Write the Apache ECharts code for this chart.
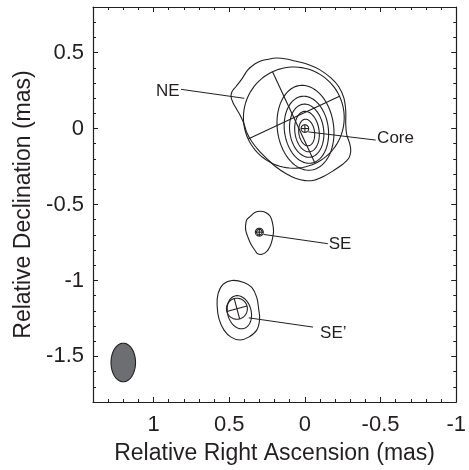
<!DOCTYPE html>
<html><head><meta charset="utf-8">
<script src="https://cdn.jsdelivr.net/npm/echarts@6/dist/echarts.min.js"></script>
<style>html,body{margin:0;padding:0;background:#fff}#c{width:469px;height:470px}</style>
</head><body><div id="c"></div>
<script>
// ---- tick values ----
const xMajorTicks = [1, 0.5, 0, -0.5, -1];
const xMinorTicks = [1.3,1.2,1.1,0.9,0.8,0.7,0.6,0.4,0.3,0.2,0.1,-0.1,-0.2,-0.3,-0.4,-0.6,-0.7,-0.8,-0.9];
const yMajorTicks = [0.5, 0, -0.5, -1, -1.5];
const yMinorTicks = [0.7,0.6,0.4,0.3,0.2,0.1,-0.1,-0.2,-0.3,-0.4,-0.6,-0.7,-0.8,-0.9,-1.1,-1.2,-1.3,-1.4,-1.6,-1.7];

// ---- irregular contours (RA, Dec in mas) ----
const coreOuterContour = [
  [0.253,0.454],[0.188,0.464],[0.122,0.458],[0.063,0.444],[-0.022,0.422],[-0.100,0.386],
  [-0.172,0.333],[-0.224,0.275],[-0.257,0.203],[-0.270,0.118],[-0.270,0.033],[-0.276,-0.039],
  [-0.296,-0.098],[-0.303,-0.150],[-0.290,-0.196],[-0.250,-0.235],[-0.192,-0.275],[-0.126,-0.314],
  [-0.061,-0.340],[-0.002,-0.343],[0.063,-0.327],[0.129,-0.294],[0.188,-0.255],[0.246,-0.203],
  [0.305,-0.144],[0.351,-0.085],[0.384,-0.026],[0.403,0.033],[0.423,0.078],[0.449,0.124],
  [0.475,0.170],[0.488,0.209],[0.482,0.242],[0.456,0.275],[0.416,0.327],[0.377,0.386],
  [0.331,0.425],[0.292,0.444]
];
const seContour = [
  [0.294,-0.544],[0.259,-0.552],[0.229,-0.577],[0.214,-0.621],[0.207,-0.675],[0.214,-0.725],
  [0.229,-0.773],[0.253,-0.810],[0.284,-0.828],[0.312,-0.824],[0.327,-0.806],[0.358,-0.758],
  [0.375,-0.719],[0.390,-0.673],[0.392,-0.641],[0.384,-0.601],[0.359,-0.577],[0.331,-0.552]
];
const sePrimeContour = [
  [0.482,-1.000],[0.403,-1.013],[0.351,-1.046],[0.318,-1.111],[0.305,-1.190],[0.299,-1.255],
  [0.318,-1.327],[0.371,-1.373],[0.429,-1.392],[0.488,-1.373],[0.534,-1.327],[0.567,-1.255],
  [0.580,-1.163],[0.573,-1.085],[0.541,-1.026]
];

// ---- elliptical contours: [RA, Dec, semi-major, semi-minor, PA deg] ----
const coreInnerContours = [
  [-0.004,0.005,0.281,0.186,8],
  [-0.010,-0.008,0.222,0.145,8],
  [-0.012,-0.014,0.176,0.112,8],
  [-0.014,-0.020,0.134,0.080,8],
  [-0.012,-0.026,0.088,0.052,8]
];
const smallContours = [
  [0.433,-1.209,0.111,0.078,15],
  [0.301,-0.682,0.018,0.018,0]
];

// ---- model components (circle with cross): [RA, Dec, a, b, PA] ----
const components = [
  [0.073,0.072,0.333,0.333,25],
  [0.000,0.000,0.025,0.025,0],
  [0.301,-0.682,0.026,0.026,0],
  [0.449,-1.186,0.069,0.069,15]
];
// ---- restoring beam ----
const beam = [[1.2,-1.54,0.127,0.081,0]];

// ---- labels & leader lines ----
const labelNames = ['NE','Core','SE','SE\u2019'];
const labelPos = [[0.906,0.242],[-0.599,-0.065],[-0.232,-0.763],[-0.188,-1.351]];
const leaderLines = [
  [0.818,0.258,0.400,0.199],
  [-0.022,-0.022,-0.468,-0.076],
  [0.273,-0.697,-0.152,-0.758],
  [0.371,-1.246,-0.054,-1.307]
];

const INK = '#231f20';
const FONT = '"Liberation Sans", Arial, sans-serif';

function ellipsePts(api, cx, cy, a, b, pa) {
  const r = pa * Math.PI / 180, pts = [];
  for (let i = 0; i < 96; i++) {
    const t = i / 96 * 2 * Math.PI;
    const u = b * Math.cos(t), v = a * Math.sin(t);
    pts.push(api.coord([cx + v * Math.sin(r) + u * Math.cos(r), cy + v * Math.cos(r) - u * Math.sin(r)]));
  }
  return pts;
}
function ellipseSeries(data, withCross, fill) {
  return {
    type: 'custom', xAxisIndex: 0, yAxisIndex: 0, silent: true, clip: false,
    data: data,
    renderItem: function (params, api) {
      const cx = api.value(0), cy = api.value(1), a = api.value(2), b = api.value(3), pa = api.value(4);
      const children = [{
        type: 'polygon', shape: { points: ellipsePts(api, cx, cy, a, b, pa) },
        style: { fill: fill || 'none', stroke: INK, lineWidth: 1.1 }
      }];
      if (withCross) {
        const r = pa * Math.PI / 180;
        const p1 = api.coord([cx + a * Math.sin(r), cy + a * Math.cos(r)]);
        const p2 = api.coord([cx - a * Math.sin(r), cy - a * Math.cos(r)]);
        const q1 = api.coord([cx + b * Math.cos(r), cy - b * Math.sin(r)]);
        const q2 = api.coord([cx - b * Math.cos(r), cy + b * Math.sin(r)]);
        children.push({ type: 'line', shape: { x1: p1[0], y1: p1[1], x2: p2[0], y2: p2[1] }, style: { stroke: INK, lineWidth: 1.1 } });
        children.push({ type: 'line', shape: { x1: q1[0], y1: q1[1], x2: q2[0], y2: q2[1] }, style: { stroke: INK, lineWidth: 1.1 } });
      }
      return { type: 'group', children: children };
    }
  };
}
function contourSeries(points) {
  return {
    type: 'custom', xAxisIndex: 0, yAxisIndex: 0, silent: true, clip: false,
    data: points,
    renderItem: function (params, api) {
      if (params.dataIndex !== 0) return null;
      const pts = points.map(p => api.coord(p));
      return { type: 'polygon', shape: { points: pts, smooth: 0.35 }, style: { fill: 'none', stroke: INK, lineWidth: 1.1 } };
    }
  };
}

function xAxisDef(pos, ticks, len, main) {
  return {
    type: 'value', min: -1, max: 1.4, inverse: true, position: pos,
    axisLine: { show: main, onZero: false, lineStyle: { color: INK, width: 1.2 } },
    axisTick: { show: true, inside: true, length: len, customValues: ticks, lineStyle: { color: INK, width: 1 } },
    axisLabel: { show: main && pos === 'bottom', customValues: xMajorTicks, color: INK, fontSize: 22, fontFamily: FONT, margin: 12 },
    splitLine: { show: false },
    name: (main && pos === 'bottom') ? 'Relative Right Ascension (mas)' : '',
    nameLocation: 'middle', nameGap: 40,
    nameTextStyle: { color: INK, fontSize: 23, fontFamily: FONT }
  };
}
function yAxisDef(pos, ticks, len, main) {
  return {
    type: 'value', min: -1.8, max: 0.8, position: pos,
    axisLine: { show: main, onZero: false, lineStyle: { color: INK, width: 1.2 } },
    axisTick: { show: true, inside: true, length: len, customValues: ticks, lineStyle: { color: INK, width: 1 } },
    axisLabel: { show: main && pos === 'left', customValues: yMajorTicks, color: INK, fontSize: 22, fontFamily: FONT, margin: 9 },
    splitLine: { show: false },
    name: (main && pos === 'left') ? 'Relative Declination (mas)' : '',
    nameLocation: 'middle', nameGap: 56,
    nameTextStyle: { color: INK, fontSize: 23, fontFamily: FONT }
  };
}

const chart = echarts.init(document.getElementById('c'), null, { renderer: 'canvas' });
chart.setOption({
  animation: false,
  backgroundColor: '#fff',
  grid: { left: 93, right: 8, top: 7, bottom: 65, containLabel: false },
  xAxis: [
    xAxisDef('bottom', xMajorTicks, 5, true),
    xAxisDef('bottom', xMinorTicks, 3, false),
    xAxisDef('top', xMajorTicks, 5, true),
    xAxisDef('top', xMinorTicks, 3, false)
  ],
  yAxis: [
    yAxisDef('left', yMajorTicks, 5, true),
    yAxisDef('left', yMinorTicks, 3, false),
    yAxisDef('right', yMajorTicks, 5, true),
    yAxisDef('right', yMinorTicks, 3, false)
  ],
  series: [
    contourSeries(coreOuterContour),
    contourSeries(seContour),
    contourSeries(sePrimeContour),
    ellipseSeries(coreInnerContours, false),
    ellipseSeries(smallContours, false),
    ellipseSeries(components, true),
    ellipseSeries(beam, false, '#6d6e71'),
    {
      type: 'custom', xAxisIndex: 0, yAxisIndex: 0, silent: true, clip: false,
      data: leaderLines,
      renderItem: function (params, api) {
        const p = api.coord([api.value(0), api.value(1)]);
        const q = api.coord([api.value(2), api.value(3)]);
        return { type: 'line', shape: { x1: p[0], y1: p[1], x2: q[0], y2: q[1] }, style: { stroke: INK, lineWidth: 1 } };
      }
    },
    {
      type: 'custom', xAxisIndex: 0, yAxisIndex: 0, silent: true, clip: false,
      data: labelPos.map((p, i) => [p[0], p[1], i]),
      renderItem: function (params, api) {
        const p = api.coord([api.value(0), api.value(1)]);
        return { type: 'text', style: { text: labelNames[params.dataIndex], x: p[0], y: p[1], fill: INK, fontSize: 17, fontFamily: FONT, align: 'center', verticalAlign: 'middle' } };
      }
    }
  ]
});
</script></body></html>
